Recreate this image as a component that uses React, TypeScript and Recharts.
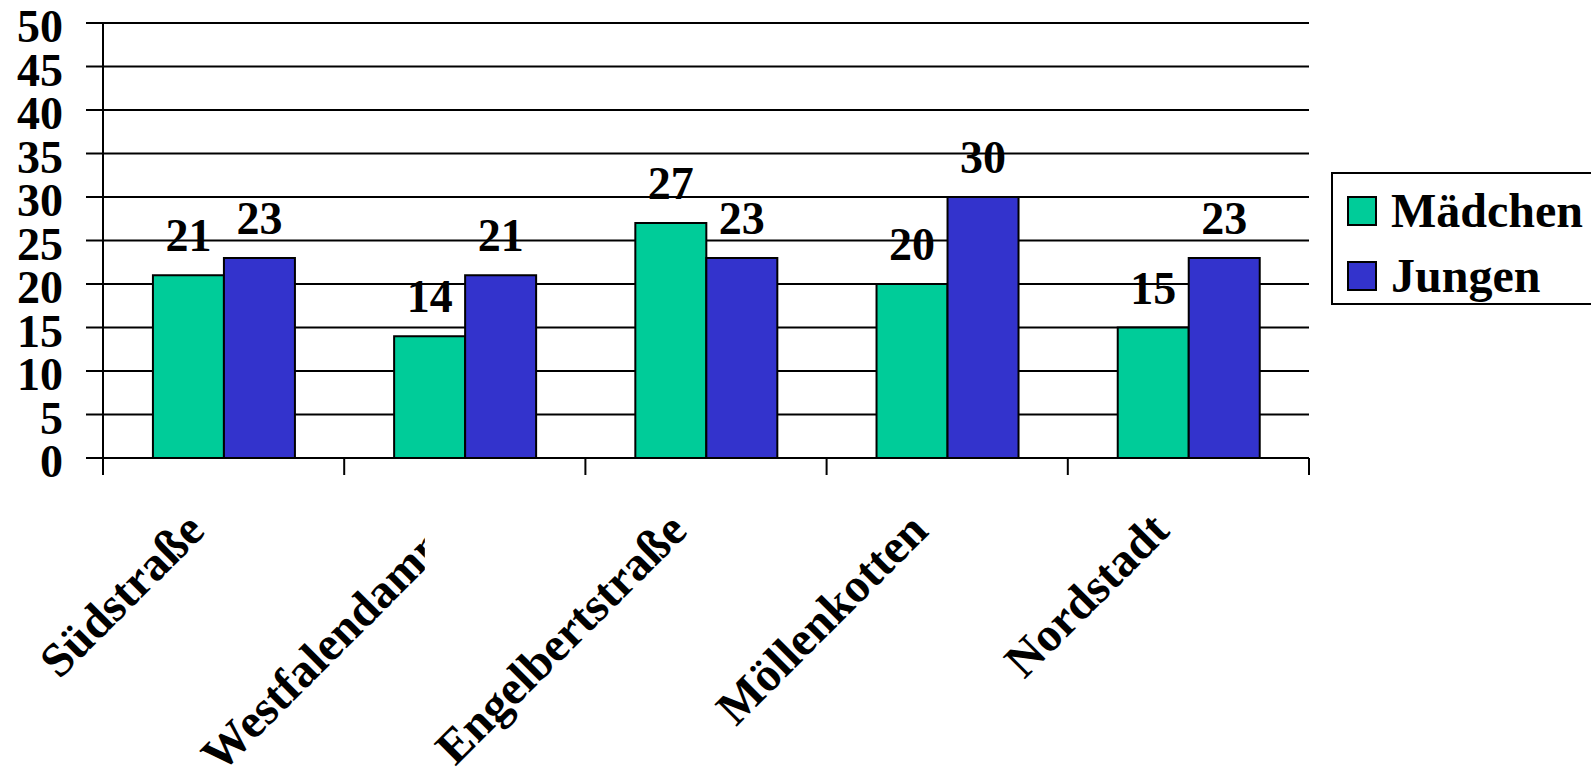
import { Bar, BarChart, CartesianGrid, LabelList, Legend, XAxis, YAxis } from "recharts";

const standorte = ["Südstraße", "Westfalendamm", "Engelbertstraße", "Möllenkotten", "Nordstadt"];
const maedchen = [21, 14, 27, 20, 15];
const jungen = [23, 21, 23, 30, 23];
const yTicks = [0, 5, 10, 15, 20, 25, 30, 35, 40, 45, 50];
const seriesOrder = ["Mädchen", "Jungen"];
// names that do not fit and get cut off
const cutLabels = new Set(["Westfalendamm"]);

const data = standorte.map((name, i) => ({ name, Mädchen: maedchen[i], Jungen: jungen[i] }));

const serif = '"Liberation Serif", "Times New Roman", Times, serif';
const boldText = { fill: "#000", fontSize: 46, fontWeight: "bold", fontFamily: serif };
const black = { stroke: "#000", strokeWidth: 2 };
const TICK_LEN = 17;

// rotated category name plus the tick marks on the group boundaries
function StandortTick({ x, y, payload, index, width, visibleTicksCount }: any) {
  const label = String(payload.value);
  const half = payload.offset || width / visibleTicksCount / 2;
  const cut = cutLabels.has(label);
  const tx = x + (cut ? -8 : -17);
  const ty = y + (cut ? 80 : 75);
  const clipId = `standort-clip-${index}`;
  const isLast = index === visibleTicksCount - 1;
  return (
    <g>
      <line x1={x - half} x2={x - half} y1={y} y2={y + TICK_LEN} {...black} />
      {isLast && <line x1={x + half} x2={x + half} y1={y} y2={y + TICK_LEN} {...black} />}
      {cut && (
        <defs>
          <clipPath id={clipId}>
            <rect x={x - 500} y={y} width={500 - 40} height={500} />
          </clipPath>
        </defs>
      )}
      <g clipPath={cut ? `url(#${clipId})` : undefined}>
        <text
          x={tx}
          y={ty}
          transform={`rotate(-45 ${tx} ${ty})`}
          textAnchor="end"
          {...boldText}
          fontSize={48}
        >
          {label}
        </text>
      </g>
    </g>
  );
}

function LegendBox({ payload }: any) {
  const items = [...(payload ?? [])].sort(
    (a: any, b: any) => seriesOrder.indexOf(a.value) - seriesOrder.indexOf(b.value)
  );
  return (
    <div
      style={{
        border: "2px solid #000",
        background: "#fff",
        width: 272,
        height: 133,
        boxSizing: "border-box",
        paddingTop: 4,
        paddingLeft: 14,
      }}
    >
      {items.map((entry: any) => (
        <div key={entry.value} style={{ display: "flex", alignItems: "center", height: 65 }}>
          <span
            style={{
              width: 30,
              height: 30,
              flex: "none",
              boxSizing: "border-box",
              border: "2px solid #000",
              background: entry.color,
              marginRight: 14,
            }}
          />
          <span style={{ font: `bold 48px ${serif}`, lineHeight: "65px", color: "#000" }}>{entry.value}</span>
        </div>
      ))}
    </div>
  );
}

export default function App() {
  return (
    <div style={{ width: 1591, height: 770, overflow: "hidden", background: "#fff" }}>
      <style>{"body{margin:0}"}</style>
      <BarChart
        width={1591}
        height={770}
        data={data}
        margin={{ top: 23, right: 282, bottom: 0, left: 0 }}
        barCategoryGap="20.7%"
        barGap={0}
      >
        <CartesianGrid vertical={false} stroke="#000" strokeWidth={2} />
        <XAxis
          dataKey="name"
          height={312}
          interval={0}
          tickSize={0}
          tickMargin={0}
          tickLine={false}
          axisLine={black}
          tick={<StandortTick />}
        />
        <YAxis
          domain={[0, 50]}
          ticks={yTicks}
          interval={0}
          width={103}
          tickSize={TICK_LEN}
          tickMargin={23}
          tick={{ ...boldText, dy: 3 }}
          tickLine={black}
          axisLine={black}
        />
        <Legend
          layout="vertical"
          align="center"
          verticalAlign="middle"
          content={<LegendBox />}
          wrapperStyle={{ position: "absolute", left: 1331, top: 172, width: "auto" }}
        />
        <Bar dataKey="Mädchen" fill="#00CC99" stroke="#000" strokeWidth={2} isAnimationActive={false}>
          <LabelList dataKey="Mädchen" position="top" offset={24} {...boldText} />
        </Bar>
        <Bar dataKey="Jungen" fill="#3333CC" stroke="#000" strokeWidth={2} isAnimationActive={false}>
          <LabelList dataKey="Jungen" position="top" offset={24} {...boldText} />
        </Bar>
      </BarChart>
    </div>
  );
}
